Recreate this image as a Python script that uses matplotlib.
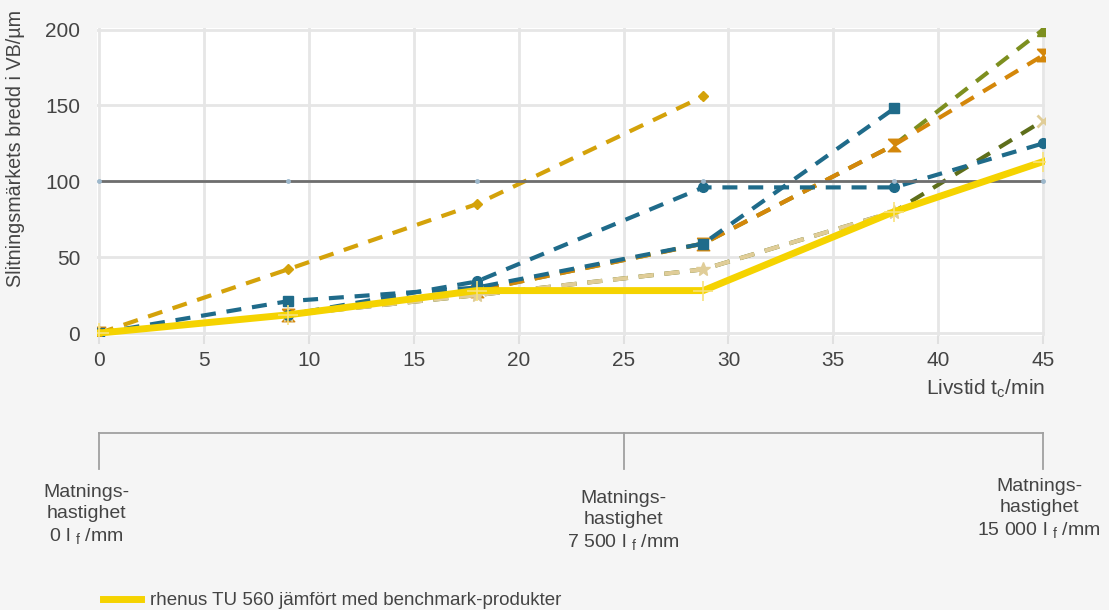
import matplotlib.pyplot as plt
from matplotlib.lines import Line2D

plt.rcParams['font.family'] = ['Liberation Sans', 'DejaVu Sans']
plt.rcParams['mathtext.fontset'] = 'custom'
plt.rcParams['mathtext.rm'] = 'Liberation Sans'

# sampling times (min)
t = [0, 9, 18, 28.8, 37.9, 45]

rhenus = [0, 12, 28, 28, 80, 113]
diamond = [0, 42, 85, 156]
circles = [0, 12, 34, 96, 96, 125]
squares = [0, 21, 30, 59, 148]
hourglass = [0, 12, 28, 59, 124, 183]
triangles = [0, 12, 28, 59, 124, 200]
beige = [0, 12, 25, 42, 80]
dark_olive = [0, 12, 25, 42, 80, 140]
limit = [100] * 6

xticks = [0, 5, 10, 15, 20, 25, 30, 35, 40, 45]
yticks = [0, 50, 100, 150, 200]

feed_x = [0, 25, 45]
feed_labels = [r"Matnings-" "\n" "hastighet" "\n" r"0 l $_{\mathregular{f}}$ /mm",
               r"Matnings-" "\n" "hastighet" "\n" r"7 500 l $_{\mathregular{f}}$ /mm",
               r"Matnings-" "\n" "hastighet" "\n" r"15 000 l $_{\mathregular{f}}$ /mm"]

txt = '#444444'
bowtie = [(-1, 1), (1, 1), (0, 0), (1, -1), (-1, -1), (0, 0), (-1, 1)]
dash = (3.6, 2.6)
lw = 3

fig = plt.figure(figsize=(11.09, 6.10), dpi=100)
fig.patch.set_facecolor('#F5F5F5')
ax = fig.add_axes([0.0875, 0.449, 0.855, 0.505])
ax.set_facecolor('white')

ax.plot(t, dark_olive, color='#5E6E1A', lw=lw, dashes=dash, marker='x', ms=8,
        mec='#E0CD98', mew=2, markevery=[5], zorder=2)
ax.plot(t, triangles, color='#7D8F1F', lw=lw, dashes=dash, marker='^', ms=9,
        markevery=[5], zorder=3)
ax.plot(t, hourglass, color='#D4870A', lw=lw, dashes=dash, marker=bowtie, ms=9, zorder=4)
ax.plot(t[:5], squares, color='#1F6B8A', lw=lw, dashes=dash, marker='s', ms=7, zorder=5)
ax.plot(t[:5], beige, color='#E0CD98', lw=lw, dashes=dash, marker='*', ms=10, zorder=6)
ax.plot(t, circles, color='#1F6B8A', lw=lw, dashes=dash, marker='o', ms=7, zorder=7)
ax.plot(t[:4], diamond, color='#D4A20A', lw=lw, dashes=dash, marker='D', ms=5, zorder=7)
ax.plot(t, limit, color='#6E6E6E', lw=2, marker='o', ms=2.5, mfc='#9DB8CC', mec='#9DB8CC',
        zorder=8)
ax.plot(t, rhenus, color='#F5D300', lw=5, marker='+', ms=14, mec='#F8E27A',
        mew=1.2, zorder=9)

ax.set_xlim(-0.1, 45.1)
ax.set_ylim(-2, 201)
ax.set_xticks(xticks)
ax.set_yticks(yticks)
ax.grid(True, color='#E6E6E6', lw=2)
ax.set_axisbelow(True)
for s in ax.spines.values():
    s.set_visible(False)
ax.tick_params(axis='x', length=6, color='#E0E0E0', width=1.5, labelsize=15,
               labelcolor=txt, pad=5)
ax.tick_params(axis='y', length=0, labelsize=15, labelcolor=txt, pad=12)

ax.set_ylabel("Slitningsmärkets bredd i VB/µm", fontsize=14.2, color=txt)
ax.yaxis.set_label_coords(-0.076, 0.61)
ax.text(1.0, -0.17, r"Livstid t$_{\mathregular{c}}$/min", transform=ax.transAxes,
        ha='right', va='center', fontsize=15, color=txt)

# feed bracket
tr = ax.get_xaxis_transform()
ax.plot([0, 45], [-0.315, -0.315], color='#A0A0A0', lw=1.3, transform=tr, clip_on=False)
for fx in feed_x:
    ax.plot([fx, fx], [-0.315, -0.43], color='#A0A0A0', lw=1.3, transform=tr, clip_on=False)
ax.text(-0.6, -0.48, feed_labels[0], transform=tr, ha='center', va='top',
        fontsize=14, color=txt, linespacing=1.3)
ax.text(25, -0.50, feed_labels[1], transform=tr, ha='center', va='top',
        fontsize=14, color=txt, linespacing=1.3)
ax.text(44.8, -0.46, feed_labels[2], transform=tr, ha='center', va='top',
        fontsize=14, color=txt, linespacing=1.3)

handle = Line2D([], [], color='#F5D300', lw=5)
fig.legend([handle], ["rhenus TU 560 jämfört med benchmark-produkter"],
           loc='center left', bbox_to_anchor=(0.078, 0.015), frameon=False,
           fontsize=13.5, labelcolor=txt, handlelength=2, handletextpad=0.5)

fig.savefig('out.png', dpi=100, facecolor=fig.get_facecolor())
